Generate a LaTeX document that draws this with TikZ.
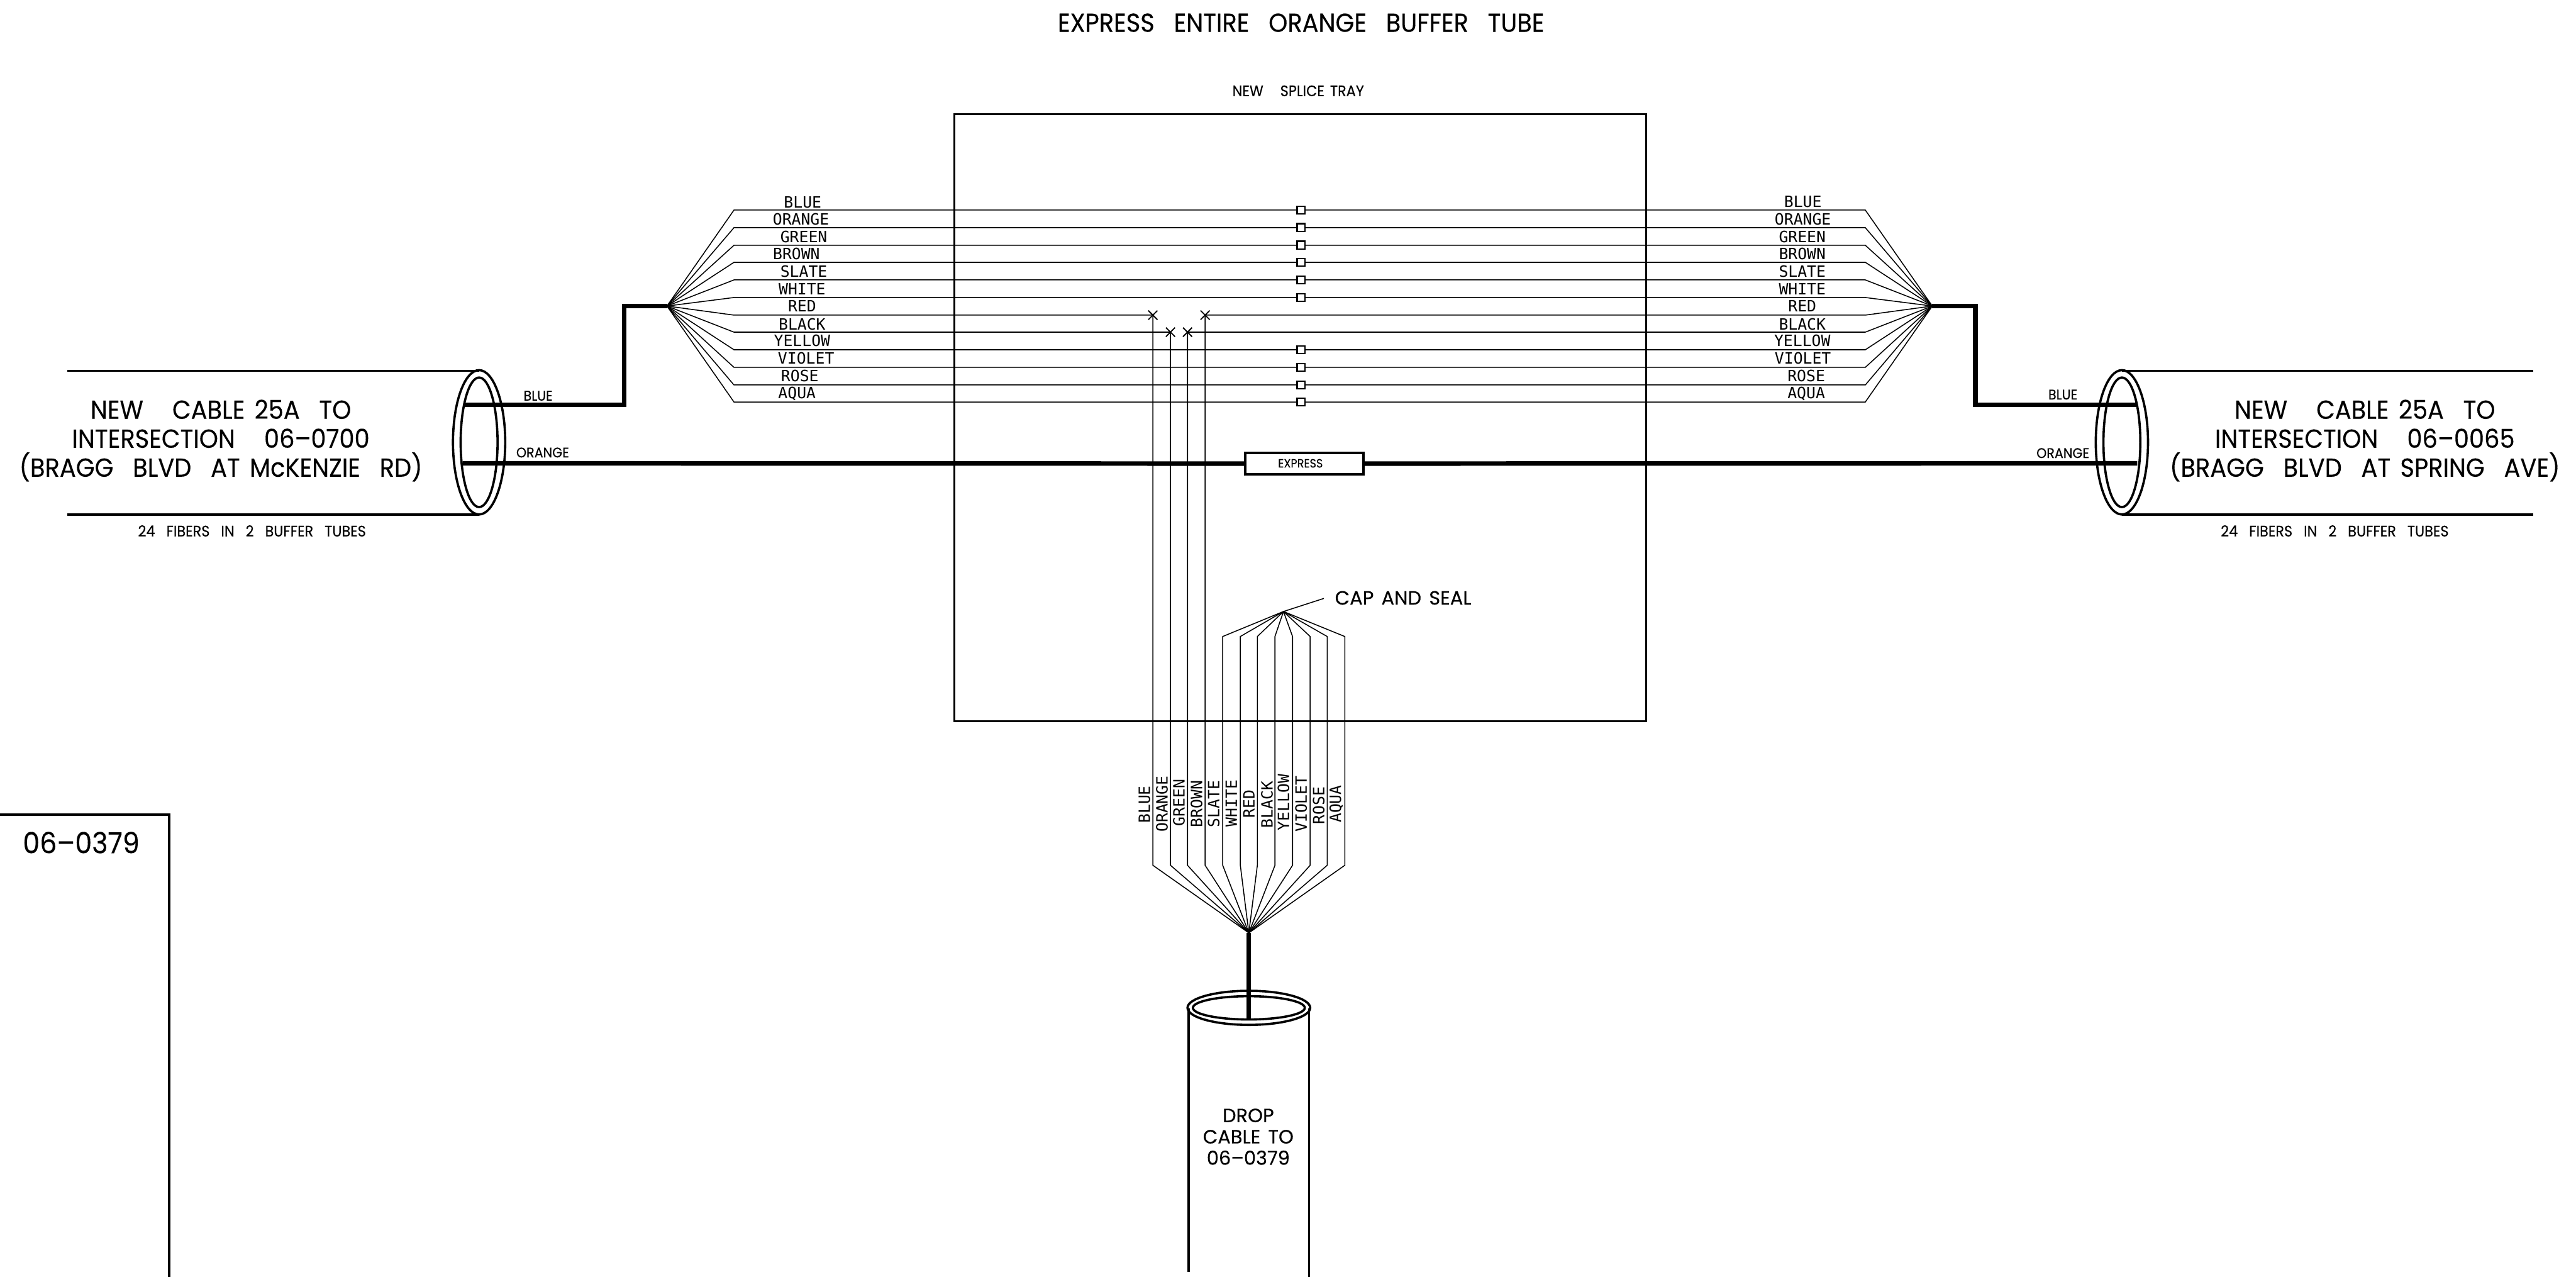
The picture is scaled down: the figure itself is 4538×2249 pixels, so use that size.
\documentclass[tikz,border=0pt]{standalone}
\usepackage{fontspec}
\usetikzlibrary{shapes.geometric,shapes.misc}
\setmainfont{Poppins}
\newfontfamily\wirefont{DejaVu Sans Mono}
\newfontfamily\gothfont[FakeStretch=0.93,WordSpace=1.5,FakeBold=0.25]{Poppins}
\newfontfamily\widefont[WordSpace=1.5,FakeBold=0.25]{Poppins}

\begin{document}
\begin{tikzpicture}[x=0.01cm,y=-0.01cm]

\tikzstyle{tray}=[line width=0.035cm]
\tikzstyle{wire}=[line width=0.017cm]
\tikzstyle{buffer}=[line width=0.08cm]
\tikzstyle{sheath}=[line width=0.04cm]
\tikzstyle{splice}=[rectangle,draw,line width=0.025cm,fill=white,inner sep=0pt,minimum size=0.14cm]
\tikzstyle{cut}=[draw,cross out,line width=0.02cm,inner sep=0pt,minimum size=0.14cm]
\tikzstyle{express}=[rectangle,draw,line width=0.04cm,fill=white,inner sep=0pt,minimum width=2.08cm,minimum height=0.38cm]
\tikzstyle{fiber}=[font=\wirefont\fontsize{7.8}{7.8}\selectfont,inner sep=0pt]
\tikzstyle{fiberv}=[fiber,rotate=90]
\tikzstyle{tube}=[font=\gothfont\fontsize{7}{7}\selectfont,inner sep=0pt]
\tikzstyle{cablelabel}=[font=\gothfont\fontsize{13}{14.5}\selectfont,align=center,inner sep=0pt]
\tikzstyle{smalltext}=[font=\gothfont\fontsize{7.6}{7.6}\selectfont,inner sep=0pt]
\tikzstyle{droplabel}=[font=\widefont\fontsize{9.6}{10.67}\selectfont,align=center,inner sep=0pt]

\useasboundingbox (0,0) rectangle (4538,2249);

% titles
\node[font=\gothfont\fontsize{13}{13}\selectfont,inner sep=0pt] (title) at (2292,40) {EXPRESS\ \ ENTIRE\ \ ORANGE\ \ BUFFER\ \ TUBE};
\node[smalltext] (traylabel) at (2287,160) {NEW\ \ \ SPLICE TRAY};

% splice tray
\node[rectangle,draw,tray,minimum width=12.18cm,minimum height=10.69cm,inner sep=0pt] (box) at (2291,735.5) {};

% fan points
\coordinate (lfan) at (1175,539);
\coordinate (rfan) at (3404,539);
\coordinate (dfan) at (2200,1643);
\coordinate (seal) at (2261,1077);
\coordinate (sealend) at (2332,1054);

% left elbows
\coordinate (l1)  at (1293,370);
\coordinate (l2)  at (1293,401);
\coordinate (l3)  at (1293,432);
\coordinate (l4)  at (1293,462);
\coordinate (l5)  at (1293,493);
\coordinate (l6)  at (1293,524);
\coordinate (l7)  at (1293,555);
\coordinate (l8)  at (1293,585);
\coordinate (l9)  at (1293,616);
\coordinate (l10) at (1293,647);
\coordinate (l11) at (1293,678);
\coordinate (l12) at (1293,708);

% right elbows
\coordinate (r1)  at (3286,370);
\coordinate (r2)  at (3286,401);
\coordinate (r3)  at (3286,432);
\coordinate (r4)  at (3286,462);
\coordinate (r5)  at (3286,493);
\coordinate (r6)  at (3286,524);
\coordinate (r7)  at (3286,555);
\coordinate (r8)  at (3286,585);
\coordinate (r9)  at (3286,616);
\coordinate (r10) at (3286,647);
\coordinate (r11) at (3286,678);
\coordinate (r12) at (3286,708);

% splices
\node[splice] (s1)  at (2292,370) {};
\node[splice] (s2)  at (2292,401) {};
\node[splice] (s3)  at (2292,432) {};
\node[splice] (s4)  at (2292,462) {};
\node[splice] (s5)  at (2292,493) {};
\node[splice] (s6)  at (2292,524) {};
\node[splice] (s9)  at (2292,616) {};
\node[splice] (s10) at (2292,647) {};
\node[splice] (s11) at (2292,678) {};
\node[splice] (s12) at (2292,708) {};

% cut ends
\node[cut] (x1) at (2031,555) {};
\node[cut] (x2) at (2062,585) {};
\node[cut] (x3) at (2092,585) {};
\node[cut] (x4) at (2123,555) {};

% horizontal fibers
\draw[wire] (lfan) -- (l1)  -- (s1);
\draw[wire] (lfan) -- (l2)  -- (s2);
\draw[wire] (lfan) -- (l3)  -- (s3);
\draw[wire] (lfan) -- (l4)  -- (s4);
\draw[wire] (lfan) -- (l5)  -- (s5);
\draw[wire] (lfan) -- (l6)  -- (s6);
\draw[wire] (lfan) -- (l7)  -- (x1.center);
\draw[wire] (lfan) -- (l8)  -- (x2.center);
\draw[wire] (lfan) -- (l9)  -- (s9);
\draw[wire] (lfan) -- (l10) -- (s10);
\draw[wire] (lfan) -- (l11) -- (s11);
\draw[wire] (lfan) -- (l12) -- (s12);
\draw[wire] (rfan) -- (r1)  -- (s1);
\draw[wire] (rfan) -- (r2)  -- (s2);
\draw[wire] (rfan) -- (r3)  -- (s3);
\draw[wire] (rfan) -- (r4)  -- (s4);
\draw[wire] (rfan) -- (r5)  -- (s5);
\draw[wire] (rfan) -- (r6)  -- (s6);
\draw[wire] (rfan) -- (r7)  -- (x4.center);
\draw[wire] (rfan) -- (r8)  -- (x3.center);
\draw[wire] (rfan) -- (r9)  -- (s9);
\draw[wire] (rfan) -- (r10) -- (s10);
\draw[wire] (rfan) -- (r11) -- (s11);
\draw[wire] (rfan) -- (r12) -- (s12);

% drop fibers
\coordinate (d1)  at (2031,1524);
\coordinate (d2)  at (2062,1524);
\coordinate (d3)  at (2092,1524);
\coordinate (d4)  at (2123,1524);
\coordinate (d5)  at (2154,1524);
\coordinate (d6)  at (2185,1524);
\coordinate (d7)  at (2215,1524);
\coordinate (d8)  at (2246,1524);
\coordinate (d9)  at (2277,1524);
\coordinate (d10) at (2308,1524);
\coordinate (d11) at (2338,1524);
\coordinate (d12) at (2369,1524);
\coordinate (u5)  at (2154,1121);
\coordinate (u6)  at (2185,1121);
\coordinate (u7)  at (2215,1121);
\coordinate (u8)  at (2246,1121);
\coordinate (u9)  at (2277,1121);
\coordinate (u10) at (2308,1121);
\coordinate (u11) at (2338,1121);
\coordinate (u12) at (2369,1121);

\draw[wire] (dfan) -- (d1)  -- (x1.center);
\draw[wire] (dfan) -- (d2)  -- (x2.center);
\draw[wire] (dfan) -- (d3)  -- (x3.center);
\draw[wire] (dfan) -- (d4)  -- (x4.center);
\draw[wire] (dfan) -- (d5)  -- (u5)  -- (seal);
\draw[wire] (dfan) -- (d6)  -- (u6)  -- (seal);
\draw[wire] (dfan) -- (d7)  -- (u7)  -- (seal);
\draw[wire] (dfan) -- (d8)  -- (u8)  -- (seal);
\draw[wire] (dfan) -- (d9)  -- (u9)  -- (seal);
\draw[wire] (dfan) -- (d10) -- (u10) -- (seal);
\draw[wire] (dfan) -- (d11) -- (u11) -- (seal);
\draw[wire] (dfan) -- (d12) -- (u12) -- (seal);
\draw[wire] (seal) -- (sealend);
\node[droplabel,anchor=west] (caplabel) at (2351,1053) {CAP\ AND\ SEAL};

% left cable
\coordinate (lc1) at (118,653);
\coordinate (lc2) at (844,653);
\coordinate (lc3) at (118,906);
\coordinate (lc4) at (844,906);
\draw[sheath] (lc1) -- (lc2);
\draw[sheath] (lc3) -- (lc4);
\node[ellipse,draw,sheath,minimum width=0.92cm,minimum height=2.54cm,inner sep=0pt] (lend) at (844,779) {};
\node[ellipse,draw,sheath,minimum width=0.65cm,minimum height=2.28cm,inner sep=0pt] (lbore) at (844,779) {};
\node[cablelabel] (lname) at (389,776) {NEW\ \ \ CABLE 25A\ \ TO\\INTERSECTION\ \ \ 06–0700\\(BRAGG\ \ BLVD\ \ AT McKENZIE\ \ RD)};
\node[smalltext] (lfibers) at (444,935) {24\ \ FIBERS\ \ IN\ \ 2\ \ BUFFER\ \ TUBES};

% right cable
\coordinate (rc1) at (3738,653);
\coordinate (rc2) at (4463,653);
\coordinate (rc3) at (3738,906);
\coordinate (rc4) at (4463,906);
\draw[sheath] (rc1) -- (rc2);
\draw[sheath] (rc3) -- (rc4);
\node[ellipse,draw,sheath,minimum width=0.92cm,minimum height=2.54cm,inner sep=0pt] (rend) at (3738,779) {};
\node[ellipse,draw,sheath,minimum width=0.65cm,minimum height=2.28cm,inner sep=0pt] (rbore) at (3738,779) {};
\node[cablelabel] (rname) at (4166,776) {NEW\ \ \ CABLE 25A\ \ TO\\INTERSECTION\ \ \ 06–0065\\(BRAGG\ \ BLVD\ \ AT SPRING\ \ AVE)};
\node[smalltext] (rfibers) at (4113,935) {24\ \ FIBERS\ \ IN\ \ 2\ \ BUFFER\ \ TUBES};

% buffer tubes
\coordinate (lblue)  at (817,713);
\coordinate (lblue2) at (1100,713);
\coordinate (lblue3) at (1100,539);
\coordinate (rblue)  at (3763,713);
\coordinate (rblue2) at (3480,713);
\coordinate (rblue3) at (3480,539);
\coordinate (lorng)  at (815,816);
\coordinate (rorng)  at (3765,816);
\draw[buffer] (lblue) -- (lblue2) -- (lblue3) -- (lfan);
\draw[buffer] (rblue) -- (rblue2) -- (rblue3) -- (rfan);
\node[express] (exp) at (2298,816.5) {};
\draw[buffer] (lorng) -- (exp);
\draw[buffer] (rorng) -- (exp);
\node[tube,font=\gothfont\fontsize{6}{6}\selectfont] (explabel) at (2291,816) {EXPRESS};

\node[tube] (lbluelabel) at (948,697) {BLUE};
\node[tube] (lornglabel) at (956,797) {ORANGE};
\node[tube] (rbluelabel) at (3634,695) {BLUE};
\node[tube] (rornglabel) at (3634,798) {ORANGE};

% drop cable
\coordinate (dc1) at (2094,1776);
\coordinate (dc2) at (2094,2240);
\coordinate (dc3) at (2306,1776);
\coordinate (dc4) at (2306,2249);
\coordinate (dbuf) at (2200,1795);
\draw[sheath] (dc1) -- (dc2);
\draw[sheath] (dc3) -- (dc4);
\node[ellipse,draw,sheath,minimum width=2.16cm,minimum height=0.6cm,inner sep=0pt] (dend) at (2200,1775) {};
\node[ellipse,draw,sheath,minimum width=1.97cm,minimum height=0.41cm,inner sep=0pt] (dbore) at (2200,1775) {};
\draw[buffer] (dfan) -- (dbuf);
\node[droplabel] (dname) at (2199,2002) {DROP\\CABLE\ TO\\06–0379};

% intersection box
\coordinate (b1) at (0,1435);
\coordinate (b2) at (298,1435);
\coordinate (b3) at (298,2249);
\draw[sheath] (b1) -- (b2) -- (b3);
\node[font=\gothfont\fontsize{14.5}{14.5}\selectfont,inner sep=0pt] (bname) at (143,1484) {06–0379};

% fiber colors, left
\node[fiber] (c1)  at (1414,356) {BLUE};
\node[fiber] (c2)  at (1411,386) {ORANGE};
\node[fiber] (c3)  at (1416,417) {GREEN};
\node[fiber] (c4)  at (1403,447) {BROWN};
\node[fiber] (c5)  at (1416,478) {SLATE};
\node[fiber] (c6)  at (1413,509) {WHITE};
\node[fiber] (c7)  at (1413,539) {RED};
\node[fiber] (c8)  at (1413,571) {BLACK};
\node[fiber] (c9)  at (1413,600) {YELLOW};
\node[fiber] (c10) at (1420,631) {VIOLET};
\node[fiber] (c11) at (1409,662) {ROSE};
\node[fiber] (c12) at (1404,693) {AQUA};

% fiber colors, right
\node[fiber] (e1)  at (3176,355) {BLUE};
\node[fiber] (e2)  at (3176,386) {ORANGE};
\node[fiber] (e3)  at (3175,417) {GREEN};
\node[fiber] (e4)  at (3175,447) {BROWN};
\node[fiber] (e5)  at (3175,478) {SLATE};
\node[fiber] (e6)  at (3175,509) {WHITE};
\node[fiber] (e7)  at (3175,539) {RED};
\node[fiber] (e8)  at (3175,571) {BLACK};
\node[fiber] (e9)  at (3175,600) {YELLOW};
\node[fiber] (e10) at (3176,631) {VIOLET};
\node[fiber] (e11) at (3182,662) {ROSE};
\node[fiber] (e12) at (3182,693) {AQUA};

% fiber colors, drop
\node[fiberv] (f1)  at (2016,1417) {BLUE};
\node[fiberv] (f2)  at (2047,1416) {ORANGE};
\node[fiberv] (f3)  at (2077,1414) {GREEN};
\node[fiberv] (f4)  at (2108,1416) {BROWN};
\node[fiberv] (f5)  at (2138,1416) {SLATE};
\node[fiberv] (f6)  at (2169,1415) {WHITE};
\node[fiberv] (f7)  at (2200,1416) {RED};
\node[fiberv] (f8)  at (2232,1417) {BLACK};
\node[fiberv] (f9)  at (2261,1413) {YELLOW};
\node[fiberv] (f10) at (2292,1416) {VIOLET};
\node[fiberv] (f11) at (2323,1419) {ROSE};
\node[fiberv] (f12) at (2354,1416) {AQUA};

\end{tikzpicture}
\end{document}
